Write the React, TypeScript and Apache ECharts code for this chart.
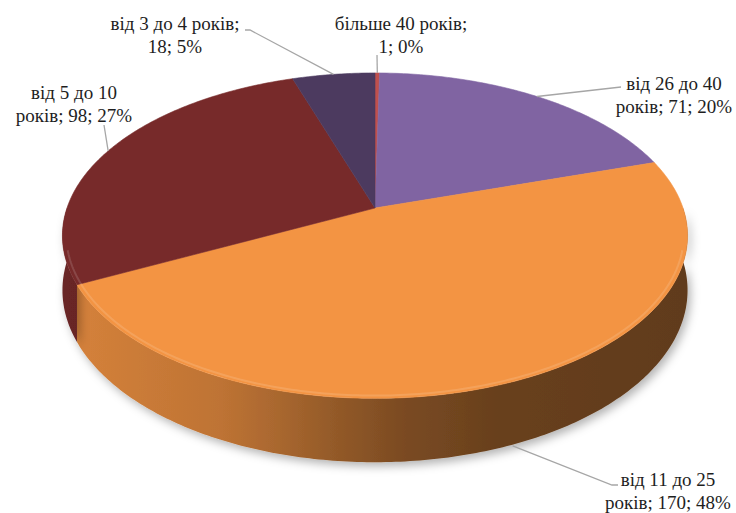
import React, { useEffect, useRef } from 'react';
import * as echarts from 'echarts';

// ---- data ----
const categories = ['більше 40 років', 'від 26 до 40 років', 'від 11 до 25 років', 'від 5 до 10 років', 'від 3 до 4 років'];
const values = [1, 71, 170, 98, 18];
const percentLabels = ['0%', '20%', '48%', '27%', '5%'];

// ---- styles / layout ----
const topColors = ['#c0504d', '#8064a2', '#f39443', '#772a2a', '#4c3a5f'];
const labelWrap = ['nameFirst', 'splitName', 'splitName', 'splitName', 'nameFirst'];
const labelPos = [[401, 23], [674, 83], [668, 479], [74, 92], [175, 23]]; // center x, first-line center y
const leaderKnee = [[[377, 55]], [[621, 87]], [[612, 485], [618, 485]], [[104, 125]], [[250, 30], [245, 30]]];
const anchorAt = ['top', 'top', 'bottom', 'top', 'top'];

const CX = 375, CY = 208, RX = 308, KY = 158, PA = 0.17, DEPTH = 53;
const FONT_FAMILY = 'Liberation Serif';
const FONT_SIZE = 19;
const LINE_H = 23;

function proj(theta: number, r: number, d: number): number[] {
  const t = (theta * Math.PI) / 180;
  const x = r * Math.sin(t);
  const v = -r * Math.cos(t);
  const s = 1 / (1 - PA * v);
  return [CX + RX * x * s, CY + KY * v * s + d * DEPTH * s];
}

function hexRgb(h: string) {
  const n = parseInt(h.slice(1), 16);
  return [(n >> 16) & 255, (n >> 8) & 255, n & 255];
}
function shade(h: string, f: number) {
  const [r, g, b] = hexRgb(h);
  const c = (x: number) => Math.max(0, Math.min(255, Math.round(x * f)));
  return `rgb(${c(r)},${c(g)},${c(b)})`;
}
function mixWhite(h: string, f: number) {
  const [r, g, b] = hexRgb(h);
  const c = (x: number) => Math.round(x + (255 - x) * f);
  return `rgb(${c(r)},${c(g)},${c(b)})`;
}
const lightStops = [[0, 0.88], [0.1, 0.84], [0.25, 0.78], [0.36, 0.68], [0.44, 0.6], [0.55, 0.5], [0.7, 0.43], [1, 0.4]];

function arcPts(a: number, b: number, r: number, d: number) {
  const pts: number[][] = [];
  const n = Math.max(2, Math.ceil(Math.abs(b - a) / 0.75));
  for (let k = 0; k <= n; k++) pts.push(proj(a + ((b - a) * k) / n, r, d));
  return pts;
}

function labelLines(i: number): string[] {
  const name = categories[i];
  const val = values[i];
  if (labelWrap[i] === 'nameFirst') return [name + ';', `${val}; ${percentLabels[i]}`];
  const words = name.split(' ');
  const last = words.pop();
  return [words.join(' '), `${last}; ${val}; ${percentLabels[i]}`];
}

export default function App() {
  const ref = useRef<HTMLDivElement>(null);
  useEffect(() => {
    const chart = echarts.init(ref.current!, null, { renderer: 'svg' });
    const total = values.reduce((s, v) => s + v, 0);
    const starts: number[] = [];
    let acc = 0;
    values.forEach((v) => {
      starts.push((acc / total) * 360);
      acc += v;
    });

    const renderItem = (params: any, api: any) => {
      const i = params.dataIndex;
      const val = api.value(0);
      const a0 = starts[i];
      const a1 = a0 + (val / total) * 360;
      const base = topColors[i];
      const children: any[] = [];

      // outer wall (front half only)
      const w0 = Math.max(a0, 90), w1 = Math.min(a1, 270);
      if (w1 > w0) {
        const top = arcPts(w0, w1, 1, 0);
        const bot = arcPts(w1, w0, 1, 1);
        children.push({
          type: 'polygon',
          z2: 1,
          shape: { points: top.concat(bot) },
          style: {
            fill: {
              type: 'linear', global: true,
              x: CX - RX, y: 0, x2: CX + RX, y2: 0,
              colorStops: lightStops.map(([o, f]) => ({ offset: o, color: shade(base, f) })),
            },
            shadowBlur: 10, shadowColor: 'rgba(0,0,0,0.3)', shadowOffsetX: 3, shadowOffsetY: 4,
          },
        });
        const h0 = Math.max(w0, 105), h1 = Math.min(w1, 255);
        if (h1 > h0) {
          children.push({
            type: 'polyline',
            z2: 4,
            shape: { points: arcPts(h0, h1, 0.988, 0) },
            style: { stroke: mixWhite(base, 0.3), lineWidth: 2, opacity: 0.45, fill: 'none' },
          });
        }
      }

      // top face
      const face = [proj(0, 0, 0)].concat(arcPts(a0, a1, 1, 0));
      children.push({
        type: 'polygon',
        z2: 3,
        shape: { points: face },
        style: { fill: base, stroke: base, lineWidth: 0.6 },
      });

      // leader line
      const mid = (a0 + a1) / 2;
      const anchor = proj(mid, 1, anchorAt[i] === 'bottom' ? 1.02 : 0.0);
      children.push({
        type: 'polyline',
        z2: 5,
        shape: { points: [anchor].concat(leaderKnee[i]) },
        style: { stroke: '#a6a6a6', lineWidth: 1.3, fill: 'none' },
      });

      return { type: 'group', children };
    };

    const texts: any[] = [];
    categories.forEach((_, i) => {
      labelLines(i).forEach((ln, k) => {
        texts.push({
          type: 'text',
          x: labelPos[i][0],
          y: labelPos[i][1] + k * LINE_H,
          z: 10,
          style: {
            text: ln,
            fontFamily: FONT_FAMILY,
            fontSize: FONT_SIZE,
            fill: '#1e1e1e',
            align: 'center',
            verticalAlign: 'middle',
          },
        });
      });
    });

    chart.setOption({
      animation: false,
      backgroundColor: '#ffffff',
      graphic: texts,
      series: [
        {
          type: 'custom',
          coordinateSystem: 'none',
          data: values.map((v, i) => ({ value: v, name: categories[i] })),
          renderItem,
        },
      ],
    });
    return () => chart.dispose();
  }, []);
  return <div ref={ref} style={{ position: 'fixed', left: 0, top: 0, width: 736, height: 513 }} />;
}
